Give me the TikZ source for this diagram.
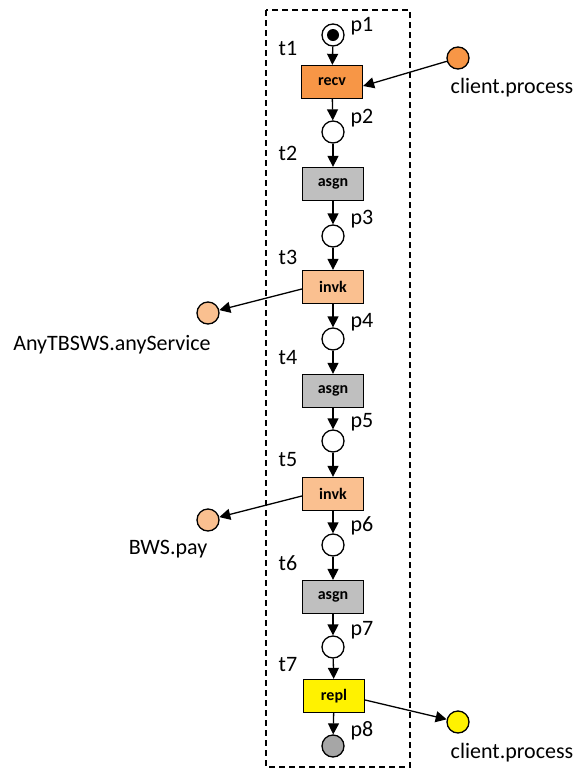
\documentclass[tikz,border=0pt]{standalone}
\usepackage{fontspec}
\setmainfont{Carlito}
\usetikzlibrary{arrows.meta}
\definecolor{orangeA}{HTML}{F79646}
\definecolor{orangeB}{HTML}{FAC090}
\definecolor{grayA}{HTML}{BFBFBF}
\definecolor{grayB}{HTML}{A6A6A6}
\begin{document}
\begin{tikzpicture}[x=1pt,y=-1pt,
  place/.style={circle,draw,line width=1.3pt,minimum size=22pt,inner sep=0pt,fill=white},
  trans/.style={rectangle,draw,line width=1.3pt,minimum width=61pt,minimum height=33pt,inner sep=0pt,font=\fontsize{16}{18}\selectfont\bfseries},
  lbl/.style={font=\fontsize{22}{26}\selectfont,inner sep=0pt},
  arc/.style={-{Triangle[length=11pt,width=11pt]},line width=1.3pt}]
\useasboundingbox (0,0) rectangle (575,769);
\draw[dash pattern=on 6pt off 4pt,line width=1.2pt] (266,10) rectangle (410,767);
% places
\node[place] (p1) at (333,35) {};
\fill (p1.center) circle (6pt);
\node[place] (p2) at (333,132) {};
\node[place] (p3) at (333,236) {};
\node[place] (p4) at (333,339) {};
\node[place] (p5) at (333,441) {};
\node[place] (p6) at (333,545) {};
\node[place] (p7) at (333,647) {};
\node[place,fill=grayB] (p8) at (333,746) {};
% transitions
\node[trans,fill=orangeA] (t1) at (332,82) {recv};
\node[trans,fill=grayA] (t2) at (333,184) {asgn};
\node[trans,fill=orangeB] (t3) at (333,287) {invk};
\node[trans,fill=grayA] (t4) at (333,391) {asgn};
\node[trans,fill=orangeB] (t5) at (333,494) {invk};
\node[trans,fill=grayA] (t6) at (333,597) {asgn};
\node[trans,fill=yellow] (t7) at (334,696) {repl};
% external places
\node[place,fill=orangeA] (c1) at (458,58) {};
\node[place,fill=orangeB] (a1) at (208,313) {};
\node[place,fill=orangeB] (b1) at (208,520) {};
\node[place,fill=yellow] (c2) at (458,722) {};
% labels
\node[lbl] (lp1) at (362,26) {p1};
\node[lbl] (lt1) at (288,48) {t1};
\node[lbl] (lp2) at (362,118) {p2};
\node[lbl] (lt2) at (288,153) {t2};
\node[lbl] (lp3) at (362,219) {p3};
\node[lbl] (lt3) at (288,257) {t3};
\node[lbl] (lp4) at (362,322) {p4};
\node[lbl] (lt4) at (288,358) {t4};
\node[lbl] (lp5) at (362,422) {p5};
\node[lbl] (lt5) at (288,460) {t5};
\node[lbl] (lp6) at (362,526) {p6};
\node[lbl] (lt6) at (288,563) {t6};
\node[lbl] (lp7) at (362,630) {p7};
\node[lbl] (lt7) at (288,665) {t7};
\node[lbl] (lp8) at (362,731) {p8};
\node[lbl] (lc1) at (512,88) {client.process};
\node[lbl] (la1) at (112,345) {AnyTBSWS.anyService};
\node[lbl] (lb1) at (168,549) {BWS.pay};
\node[lbl] (lc2) at (512,753) {client.process};
% arcs
\draw[arc] (p1) -- (t1);
\draw[arc] (t1) -- (p2);
\draw[arc] (p2) -- (t2);
\draw[arc] (t2) -- (p3);
\draw[arc] (p3) -- (t3);
\draw[arc] (t3) -- (p4);
\draw[arc] (p4) -- (t4);
\draw[arc] (t4) -- (p5);
\draw[arc] (p5) -- (t5);
\draw[arc] (t5) -- (p6);
\draw[arc] (p6) -- (t6);
\draw[arc] (t6) -- (p7);
\draw[arc] (p7) -- (t7);
\draw[arc] (t7) -- (p8);
\draw[arc] (c1) -- ([yshift=-4pt]t1.east);
\draw[arc] ([yshift=-2pt]t3.west) -- (a1);
\draw[arc] ([yshift=-2pt]t5.west) -- (b1);
\draw[arc] ([yshift=-4pt]t7.east) -- (c2);
\end{tikzpicture}
\end{document}
